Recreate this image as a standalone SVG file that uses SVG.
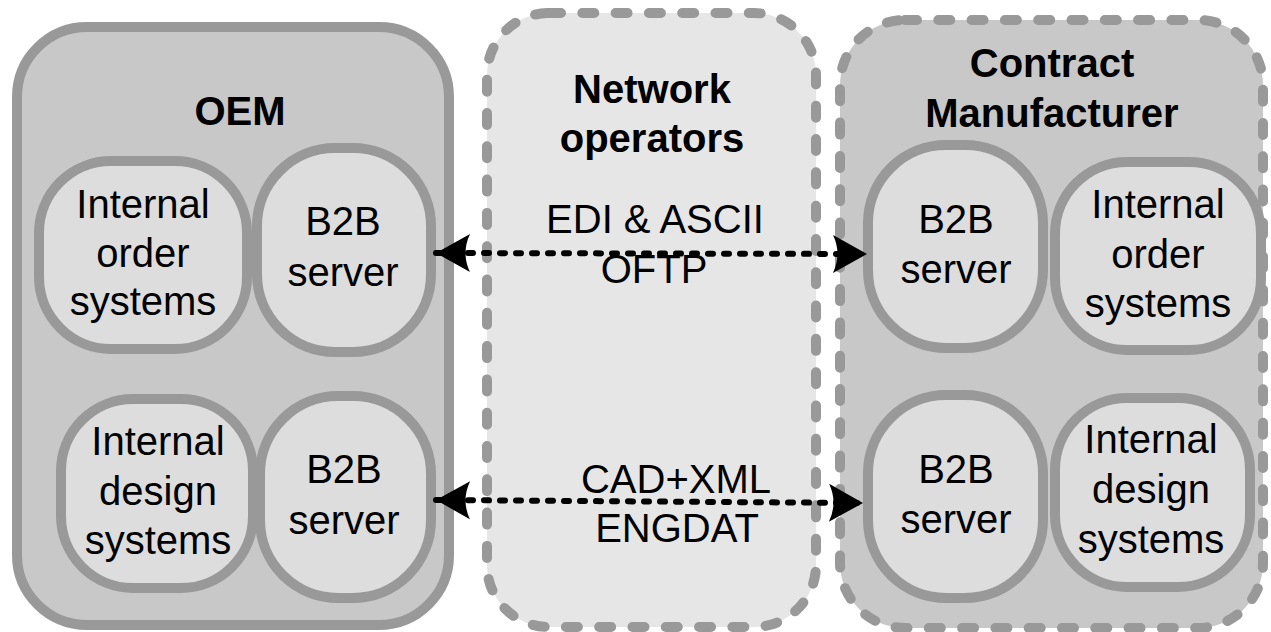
<svg xmlns="http://www.w3.org/2000/svg" width="1271" height="632" viewBox="0 0 1271 632">
<style>
text{font-family:"Liberation Sans",Arial,sans-serif;font-size:40px;fill:#000;text-anchor:middle}
.b{font-weight:bold}
.grp{fill:#c8c8c8;stroke:#999;stroke-width:10}
.dash{stroke-dasharray:12 21.3;stroke-linecap:round}
.net{fill:#e6e6e6;stroke:#999;stroke-width:10}
.node{fill:#dddddd;stroke:#999;stroke-width:10}
.conn{stroke:#000;stroke-width:6;stroke-dasharray:5 11;stroke-linecap:round;fill:none}
</style>
<defs>
<marker id="arr" markerUnits="userSpaceOnUse" markerWidth="40" markerHeight="44" viewBox="-36 -22 40 44" refX="0" refY="0" orient="auto-start-reverse">
<path d="M0,0 L-34,-19 Q-25,0 -34,19 Z" fill="#000"/>
</marker>
</defs>
<rect width="1271" height="632" fill="#fff"/>
<g id="oem">
<rect class="grp" x="17" y="27" width="432" height="598" rx="70"/>
<text class="b" x="240" y="125">OEM</text>
</g>
<g id="network">
<rect class="net dash" x="487" y="13" width="329" height="614" rx="62"/>
<text class="b" x="652" y="103">Network</text>
<text class="b" x="652" y="152">operators</text>
</g>
<g id="cm">
<rect class="grp dash" x="840" y="20" width="423" height="608" rx="65"/>
<text class="b" x="1052" y="77">Contract</text>
<text class="b" x="1052" y="127">Manufacturer</text>
</g>
<g id="oem-order">
<rect class="node" x="39" y="161" width="208" height="188" rx="72"/>
<text x="143" y="218">Internal</text>
<text x="143" y="267">order</text>
<text x="143" y="315">systems</text>
</g>
<g id="oem-b2b-order">
<rect class="node" x="257" y="148" width="174" height="204" rx="78"/>
<text x="343" y="235">B2B</text>
<text x="343" y="286">server</text>
</g>
<g id="oem-design">
<rect class="node" x="61" y="399" width="192" height="189" rx="72"/>
<text x="158" y="455">Internal</text>
<text x="158" y="505">design</text>
<text x="158" y="554">systems</text>
</g>
<g id="oem-b2b-design">
<rect class="node" x="260" y="396" width="171" height="202" rx="78"/>
<text x="344" y="483">B2B</text>
<text x="344" y="534">server</text>
</g>
<g id="cm-b2b-order">
<rect class="node" x="868" y="145" width="175" height="203" rx="78"/>
<text x="956" y="233">B2B</text>
<text x="956" y="283">server</text>
</g>
<g id="cm-order">
<rect class="node" x="1055" y="162" width="206" height="188" rx="72"/>
<text x="1158" y="218">Internal</text>
<text x="1158" y="268">order</text>
<text x="1158" y="317">systems</text>
</g>
<g id="cm-b2b-design">
<rect class="node" x="868" y="395" width="175" height="203" rx="78"/>
<text x="956" y="483">B2B</text>
<text x="956" y="533">server</text>
</g>
<g id="cm-design">
<rect class="node" x="1055" y="398" width="195" height="189" rx="72"/>
<text x="1151" y="453">Internal</text>
<text x="1151" y="503">design</text>
<text x="1151" y="553">systems</text>
</g>
<g id="connectors">
<text x="655" y="233">EDI &amp; ASCII</text>
<text x="654" y="283">OFTP</text>
<path class="conn" d="M436,253 L867,254" marker-start="url(#arr)" marker-end="url(#arr)"/>
<text x="676" y="493">CAD+XML</text>
<text x="677" y="542">ENGDAT</text>
<path class="conn" d="M436,500 L863,503" marker-start="url(#arr)" marker-end="url(#arr)"/>
</g>
</svg>
